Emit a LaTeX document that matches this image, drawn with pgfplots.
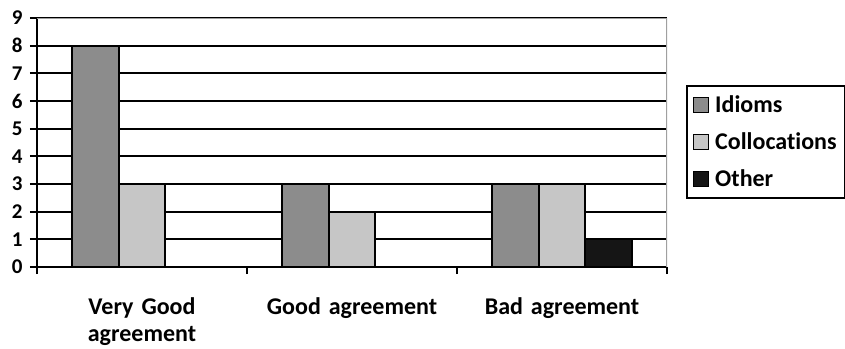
\documentclass[border=0pt]{standalone}
\usepackage{fontspec}
\setmainfont{Carlito}[Ligatures=CommonOff, WordSpace=0.8]
\usepackage{pgfplots}
\pgfplotsset{compat=1.18}

\definecolor{idiomgray}{HTML}{8C8C8C}
\definecolor{collgray}{HTML}{C6C6C6}
\definecolor{othergray}{HTML}{151515}
\definecolor{framegray}{HTML}{A0A0A0}

\newcommand{\chartfont}{\bfseries\fontsize{24}{27}\selectfont}
\newcommand{\digitfont}{\bfseries\fontsize{21}{24}\selectfont}

\begin{document}
\begin{tikzpicture}[x=1pt,y=1pt]
\begin{axis}[
  at={(37pt,81pt)}, anchor=south west,
  scale only axis, width=630pt, height=249pt,
  xmin=-0.5, xmax=2.5, ymin=0, ymax=9,
  axis lines*=left,
  axis line style={black, line width=1.8pt},
  tick align=outside,
  major tick length=7pt,
  tick style={black, line width=1.8pt},
  ytick={0,1,...,9},
  yticklabel={\textbf{\pgfmathprintnumber{\tick}}},
  ymajorgrids,
  grid style={black, line width=1.8pt},
  xtick={-0.5,0.5,1.5,2.5},
  xticklabels={},
  extra x ticks={0,1,2},
  extra x tick labels={Very Good agreement, Good agreement, Bad agreement},
  extra x tick style={
    major tick length=0pt,
    xticklabel style={text width=200pt, align=center, anchor=north, yshift=-27pt, font=\chartfont},
  },
  /pgf/number format/assume math mode=true,
  yticklabel style={font=\digitfont, xshift=-4pt},
  ybar=0pt,
  bar width=46.5pt,
  every axis plot/.append style={draw=black, line width=1.8pt},
  legend cell align=left,
  legend style={
    at={(1,1)}, anchor=north west, xshift=19pt, yshift=-67pt,
    draw=black, line width=1.8pt, font=\chartfont,
    row sep=14.5pt, inner xsep=6pt, inner ysep=8pt,
    /tikz/every odd column/.append style={column sep=4pt},
  },
  legend image code/.code={
    \draw[#1, line width=1.3pt] (0pt,-7.5pt) rectangle (15pt,7.5pt);
  },
]
% Idioms
\addplot[fill=idiomgray] coordinates {(0,8) (1,3) (2,3)};
% Collocations
\addplot[fill=collgray] coordinates {(0,3) (1,2) (2,3)};
% Other
\addplot[fill=othergray] coordinates {(2,1)};
\legend{Idioms, Collocations, Other}
% grey frame on the top and right of the plot area
\draw[framegray, line width=1.8pt] (rel axis cs:0,1) -- (rel axis cs:1,1) -- (rel axis cs:1,0);
\end{axis}
\pgfresetboundingbox
\path (0,0) rectangle (845,348);
\end{tikzpicture}
\end{document}
